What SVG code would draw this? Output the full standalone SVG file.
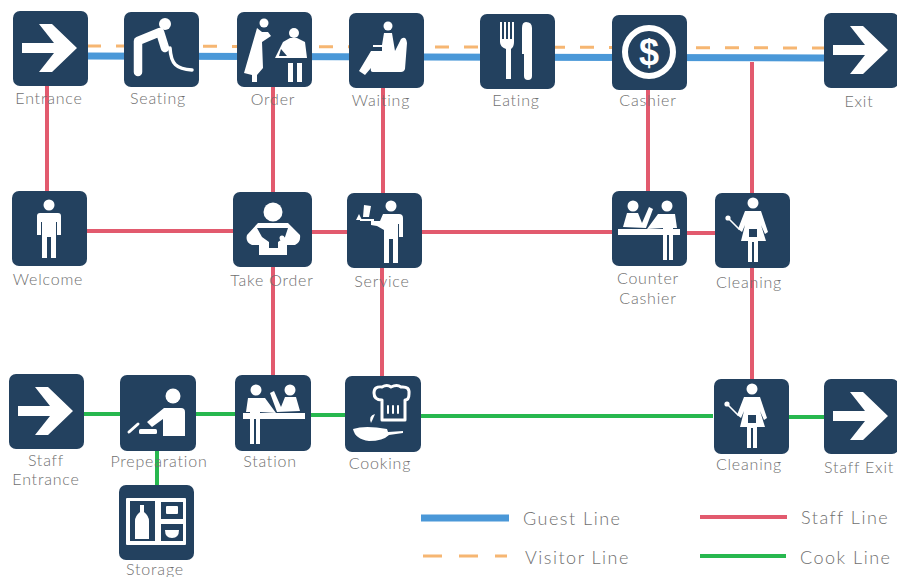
<svg xmlns="http://www.w3.org/2000/svg" width="897" height="577" viewBox="0 0 897 577">
<style>
.bg{fill:#23415f}
.w{fill:#fff}
.d{fill:#23415f}
.s{fill:none;stroke:#fff;stroke-linecap:round;stroke-linejoin:round}
.g{fill:none;stroke:#4a98d8;stroke-width:7}
.v{fill:none;stroke:#f6b672;stroke-width:3}
.r{fill:none;stroke:#e25a6e;stroke-width:4}
.c{fill:none;stroke:#27b84f;stroke-width:4}
text{font-family:"Lato","Liberation Sans",sans-serif;font-weight:300;font-size:16px;fill:#6f6f6f;text-anchor:middle;letter-spacing:.8px}
.lg{font-size:18px;text-anchor:start;letter-spacing:1.5px}
</style>
<defs>
<rect id="box" class="bg" width="75" height="75" rx="7"/>
<polygon id="arrow" class="w" points="9,32 41,32 26,13 39,13 64,37 39,61 26,61 41,42 9,42"/>
<g id="cleaner">
<circle class="w" cx="38" cy="10" r="5.5"/>
<path class="w" d="M30 18H46L53 39L50 41L46 32L51 48H43V69H39V49H37V69H33V48H26L30 32L27 39L23 36Z"/>
<rect class="d" x="34" y="36" width="8" height="8"/>
<path class="s" stroke-width="1.6" d="M24 36L14 26"/>
<circle class="w" cx="13" cy="25" r="2.6"/>
</g>
<g id="counter">
<circle class="w" cx="21" cy="15" r="5.5"/>
<path class="w" d="M11 36L15 22H26L30 32L37 16L41 18L34 37Z"/>
<circle class="w" cx="55" cy="15" r="5.5"/>
<path class="w" d="M46 23H63L65 37H61V69H57V44H55V69H51V37L35 38Z"/>
<rect class="w" x="6" y="38" width="62" height="6"/>
</g>
</defs>

<g id="connectors">
<path class="r" d="M47 85V191M273 86V192M273 267V375M383 87V193M382 267V376M648 89V191M752 62V193M752 267V379M87 231H233M312 232H347M421 232H612M686 233H715"/>
<path class="g" d="M87 56L825 58"/>
<path class="v" stroke-dasharray="14 15" d="M87 46L825 48"/>
<path class="c" d="M84 414H120M196 414H235M311 415H345M421 416H713M789 417H824M157 451V485"/>
</g>

<g id="entrance" transform="translate(13 11)"><use href="#box"/><use href="#arrow"/></g>
<g id="seating" transform="translate(124 12)"><use href="#box"/>
<circle class="w" cx="41" cy="12" r="6"/>
<path class="s" stroke-width="8.5" d="M14 60V29L36 20L41 36"/>
<path class="s" stroke-width="3.5" d="M46 36C47 52 52 57 68 58"/></g>
<g id="order" transform="translate(237 12)"><use href="#box"/>
<circle class="w" cx="27" cy="11" r="4.5"/>
<path class="w" d="M20 16L7 61L15 63V70H20V63L26 56L25 30L34 24L31 20H25Z"/>
<circle class="w" cx="57" cy="21" r="5"/>
<path class="w" d="M46 30L53 26H60L68 30L70 46H38Z"/>
<path class="d" d="M44 37L50 44H42Z"/>
<rect class="w" x="51" y="51" width="5" height="19"/><rect class="w" x="60" y="51" width="5" height="19"/></g>
<g id="waiting" transform="translate(349 13)"><use href="#box"/>
<circle class="w" cx="39" cy="13" r="4.5"/>
<path class="w" d="M35 20H43L46 38L52 26Q57 22 58 30L56 56Q55 59 52 59H24Q21 59 22 55L16 62L10 58L22 38L33 38V34H24V32H33Z"/></g>
<g id="eating" transform="translate(480 14)"><use href="#box"/>
<path class="w" d="M20 8H22V25H24V8H26V25H28V8H30V25H32V8H34V28Q34 33 31 35V65H26V35Q20 33 20 28Z"/>
<path class="w" d="M46 8Q52 8 52 14V62Q52 66 48 66Q44 66 44 62V40H42V14Q42 8 46 8Z"/></g>
<g id="cashier" transform="translate(612 15)"><use href="#box"/>
<circle cx="37" cy="37" r="24" fill="none" stroke="#fff" stroke-width="6"/>
<text x="37" y="50" style="font-family:'Liberation Sans',sans-serif;font-size:36px;font-weight:700;fill:#fff;letter-spacing:0">$</text></g>
<g id="exit" transform="translate(824 13)"><use href="#box"/><use href="#arrow"/></g>

<g id="welcome" transform="translate(12 191)"><use href="#box"/>
<circle class="w" cx="37" cy="14" r="5.5"/>
<path class="w" d="M28 22H46Q49 22 49 25V44H45V31H44V67H39V46H35V67H30V31H29V44H25V25Q25 22 28 22Z"/></g>
<g id="takeorder" transform="translate(233 192)"><rect class="bg" width="79" height="75" rx="7"/>
<circle class="w" cx="40" cy="20" r="9.5"/>
<path class="w" d="M25 31H55L67 43Q68 50 62 53H54V63H26V53H19Q12 50 14 43Z"/>
<path class="d" d="M24 36H55L52 45L45 50V56H36V50L29 45Z"/>
<circle class="w" cx="49" cy="46" r="2.5"/></g>
<g id="service" transform="translate(347 193)"><use href="#box"/>
<circle class="w" cx="44" cy="13" r="5.5"/>
<path class="w" d="M36 21H52Q56 21 56 25V44H52V31H51V70H46V46H42V70H37V37L30 33L24 32V28L33 28Z"/>
<path class="w" d="M13 26H27V28H13Z"/><path class="w" d="M17 12L24 13L22 24H16ZM9 27L12 21L15 27Z"/></g>
<g id="countercashier" transform="translate(612 191)"><use href="#box"/><use href="#counter"/></g>
<g id="cleaning1" transform="translate(715 193)"><use href="#box"/><use href="#cleaner"/></g>

<g id="staffentrance" transform="translate(9 374)"><use href="#box"/><use href="#arrow"/></g>
<g id="preparation" transform="translate(120 375)"><rect class="bg" width="76" height="76" rx="7"/>
<circle class="w" cx="53" cy="21" r="7.5"/>
<path class="w" d="M44 33H61Q65 33 65 37V61H43V44L32 52L27 47Z"/>
<path class="s" stroke-width="3" d="M9 57L18 49"/>
<rect class="w" x="19" y="54" width="18" height="5" rx="1.5"/></g>
<g id="station" transform="translate(235 375)"><rect class="bg" width="76" height="76" rx="7"/><use href="#counter" transform="translate(76 0) scale(-1 1)"/></g>
<g id="cooking" transform="translate(345 376)"><rect class="bg" width="76" height="76" rx="7"/>
<path d="M37 24Q29 24 29 17Q29 10 37 11Q42 8 46 11Q52 8 56 11Q65 10 64 18Q64 24 60 24V44H37Z" fill="none" stroke="#fff" stroke-width="3" stroke-linejoin="round"/>
<path class="s" stroke-width="2" d="M43 30V37M48 30V37M53 30V37"/>
<path class="w" d="M8 53Q20 49 42 53L43 56L58 55V57L44 59Q38 65 24 65Q10 63 8 53Z"/>
<path class="w" d="M26 47Q23 40 30 38Q28 43 26 47Z"/></g>
<g id="cleaning2" transform="translate(714 379)"><use href="#box"/><use href="#cleaner"/></g>
<g id="staffexit" transform="translate(824 379)"><use href="#box"/><use href="#arrow"/></g>
<g id="storage" transform="translate(119 485)"><use href="#box"/>
<rect class="w" x="7" y="13" width="60" height="47" rx="1"/>
<rect class="d" x="11" y="16" width="25" height="40"/>
<path class="w" d="M21 20H25V27Q30 31 30 36V54H16V36Q16 31 21 27Z"/>
<rect class="d" x="42" y="17" width="22" height="17"/><rect class="w" x="47" y="21" width="12" height="8" rx="1"/>
<rect class="d" x="42" y="39" width="22" height="17"/><path class="w" d="M46 45H60Q60 53 53 53Q46 53 46 45Z"/></g>

<g id="labels">
<text x="49" y="104">Entrance</text>
<text x="158" y="104">Seating</text>
<text x="273" y="105">Order</text>
<text x="381" y="106">Waiting</text>
<text x="516" y="106">Eating</text>
<text x="648" y="106">Cashier</text>
<text x="859" y="107">Exit</text>
<text x="48" y="285">Welcome</text>
<text x="272" y="286">Take Order</text>
<text x="382" y="287">Service</text>
<text x="648" y="284">Counter</text>
<text x="648" y="304">Cashier</text>
<text x="749" y="288">Cleaning</text>
<text x="46" y="466">Staff</text>
<text x="46" y="485">Entrance</text>
<text x="159" y="467">Prepearation</text>
<text x="270" y="467">Station</text>
<text x="380" y="469">Cooking</text>
<text x="749" y="470">Cleaning</text>
<text x="859" y="473">Staff Exit</text>
<text x="155" y="575">Storage</text>
</g>

<g id="legend">
<path class="g" d="M421 518H509"/>
<path class="v" stroke-dasharray="19 17" d="M423 556H507"/>
<path class="r" d="M700 517H787"/>
<path class="c" d="M700 556H786"/>
<text class="lg" x="523" y="525">Guest Line</text>
<text class="lg" x="525" y="564">Visitor Line</text>
<text class="lg" x="801" y="524">Staff Line</text>
<text class="lg" x="800" y="564">Cook Line</text>
</g>
</svg>
